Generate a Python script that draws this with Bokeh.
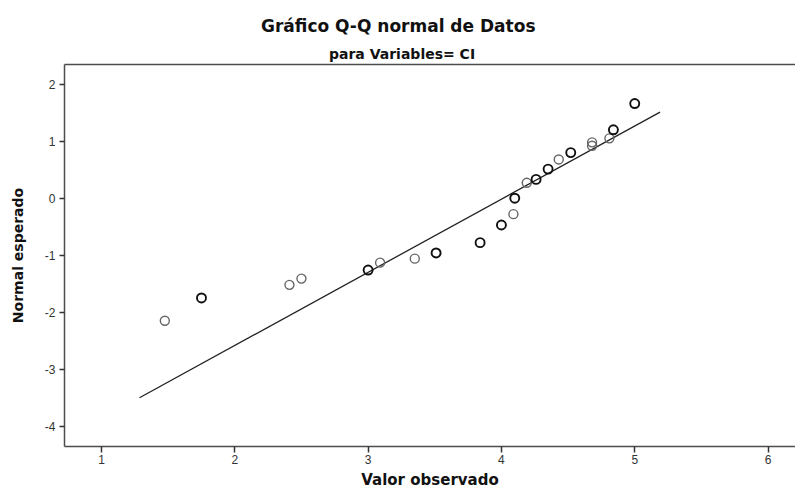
from bokeh.plotting import figure
from bokeh.models import ColumnDataSource, LinearAxis, FixedTicker, Range1d, Title
from bokeh.embed import file_html
from bokeh.resources import INLINE

# Data
obs_dark = [1.75, 3.00, 3.51, 3.84, 4.00, 4.10, 4.26, 4.35, 4.52, 4.84, 5.00]
exp_dark = [-1.75, -1.26, -0.96, -0.78, -0.47, 0.00, 0.33, 0.51, 0.80, 1.20, 1.66]
obs_light = [1.475, 2.41, 2.50, 3.09, 3.35, 4.09, 4.19, 4.43, 4.68, 4.68, 4.81]
exp_light = [-2.15, -1.52, -1.41, -1.13, -1.06, -0.28, 0.27, 0.68, 0.98, 0.92, 1.05]
line_x = [1.285, 5.19]
line_y = [-3.50, 1.51]
x_ticks = [1, 2, 3, 4, 5, 6]
y_ticks = [-4, -3, -2, -1, 0, 1, 2]

title_text = "Gráfico Q-Q normal de Datos"
subtitle_text = "para Variables= CI"
xlabel_text = "Valor observado"
ylabel_text = "Normal esperado"

p = figure(width=795, height=491, output_backend="svg", toolbar_location=None,
           x_range=Range1d(0.7224, 6.206), y_range=Range1d(-4.355, 2.345),
           min_border_left=64, min_border_top=64, min_border_bottom=44, min_border_right=0,
           x_axis_type=None, y_axis_type=None)
p.outline_line_color = None
p.xgrid.visible = False
p.ygrid.visible = False
p.background_fill_color = "white"
p.border_fill_color = "white"

axis_color = "#4d4d4d"
font = "DejaVu Sans"

def style_axis(ax, ticks, tick_out, standoff):
    ax.ticker = FixedTicker(ticks=ticks)
    ax.major_label_overrides = {t: str(t) for t in ticks}
    ax.axis_line_color = axis_color
    ax.axis_line_width = 1.5
    ax.major_tick_line_color = "#333333"
    ax.major_tick_line_width = 1.5
    ax.major_tick_out = tick_out
    ax.major_tick_in = 0
    ax.minor_tick_line_color = None
    ax.major_label_text_font = "Liberation Sans"
    ax.major_label_text_font_size = "12px"
    ax.major_label_text_color = "#333333"
    ax.major_label_standoff = standoff
    ax.axis_label_text_font = font
    ax.axis_label_text_font_style = "bold"
    ax.axis_label_text_color = "#111111"

xa = LinearAxis(axis_label=xlabel_text)
style_axis(xa, x_ticks, 6, 2)
xa.axis_label_text_font_size = "15px"
xa.axis_label_standoff = 4
p.add_layout(xa, "below")

ya = LinearAxis(axis_label=ylabel_text)
style_axis(ya, y_ticks, 5, 4)
ya.axis_label_text_font_size = "14px"
ya.axis_label_standoff = 16
p.add_layout(ya, "left")

top = LinearAxis(ticker=FixedTicker(ticks=[]), major_tick_line_color=None,
                 minor_tick_line_color=None, axis_line_color=axis_color,
                 axis_line_width=1.5, major_label_standoff=0, major_tick_out=0)
p.add_layout(top, "above")

p.add_layout(Title(text=subtitle_text, text_font=font, text_font_style="bold",
                   text_font_size="14px", align="left", offset=264.5, standoff=6,
                   text_color="#111111"), "above")
p.add_layout(Title(text=title_text, text_font=font, text_font_style="bold",
                   text_font_size="17px", align="left", offset=196.5, standoff=9,
                   text_color="#111111"), "above")

p.line(line_x, line_y, line_color="#222222", line_width=1.3)

src_l = ColumnDataSource(dict(x=obs_light, y=exp_light))
p.scatter("x", "y", source=src_l, marker="circle", size=9, fill_color=None,
          line_color="#666666", line_width=1.4)
src_d = ColumnDataSource(dict(x=obs_dark, y=exp_dark))
p.scatter("x", "y", source=src_d, marker="circle", size=9, fill_color=None,
          line_color="#111111", line_width=1.9)

open("out.html", "w").write(file_html(p, INLINE))
